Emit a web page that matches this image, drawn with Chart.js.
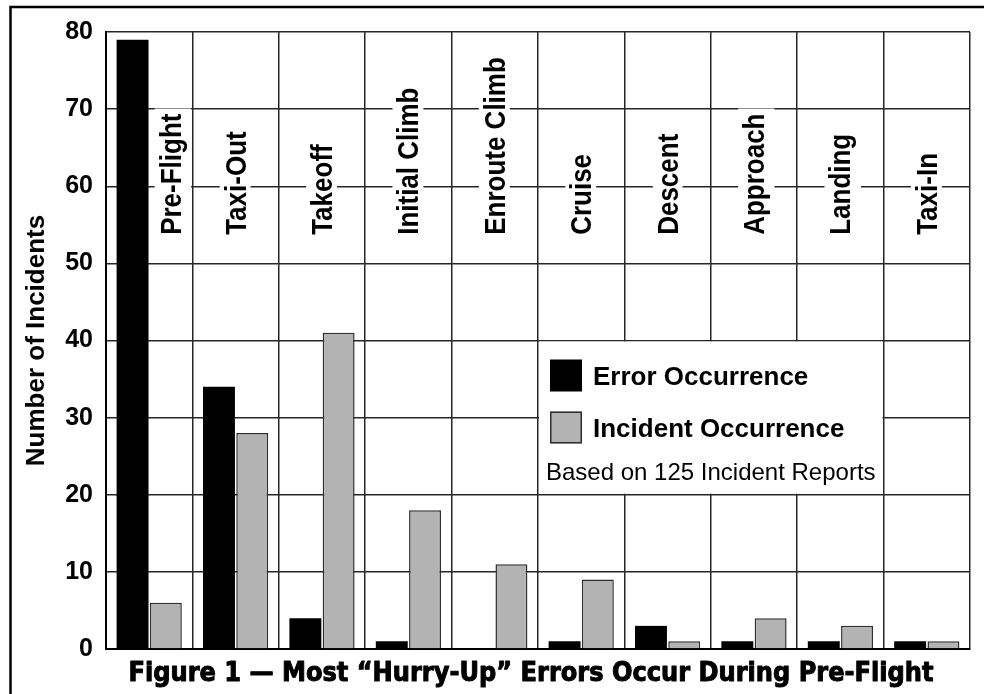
<!DOCTYPE html>
<html>
<head>
<meta charset="utf-8">
<script src="https://cdn.jsdelivr.net/npm/chart.js@4.4.1/dist/chart.umd.min.js"></script>
<style>
    body { margin: 0; background: #fff; }
    canvas { display: block; }
</style>
</head>
<body>
<canvas id="myChart" width="984" height="694"></canvas>
<script>
let phases = ['Pre-Flight', 'Taxi-Out', 'Takeoff', 'Initial Climb', 'Enroute Climb', 'Cruise', 'Descent', 'Approach', 'Landing', 'Taxi-In'];
let error_occ = [79, 34, 4, 1, 0, 1, 3, 1, 1, 1];
let incident_occ = [6, 28, 41, 18, 11, 9, 1, 4, 3, 1];
let y_ticks = [0, 10, 20, 30, 40, 50, 60, 70, 80];
let series_names = ['Error Occurrence', 'Incident Occurrence'];
let note_text = 'Based on 125 Incident Reports';
let axis_title = 'Number of Incidents';
let fig_title = 'Figure 1 \u2014 Most \u201cHurry-Up\u201d Errors Occur During Pre-Flight';

const FONT = '"Liberation Sans", Arial, Helvetica, sans-serif';
const GRID = '#262626';

// white box over the grid where the legend sits (cells Cruise..Landing, 20..40)
const legendBg = {
    id: 'legendBg',
    beforeDatasetsDraw(chart) {
        const ctx = chart.ctx, xs = chart.scales.x, ys = chart.scales.y;
        const l = xs.getPixelForValue(4.5), r = xs.getPixelForValue(8.5);
        const t = ys.getPixelForValue(40), b = ys.getPixelForValue(20);
        ctx.save();
        ctx.fillStyle = '#fff';
        ctx.fillRect(l + 1, t + 1, r - l - 2, b - t - 2);
        ctx.restore();
    },
    afterDatasetsDraw(chart) {
        const ctx = chart.ctx, xs = chart.scales.x, ys = chart.scales.y;
        const l = xs.getPixelForValue(4.5);
        const t = ys.getPixelForValue(40);
        const ds = chart.data.datasets;
        ctx.save();
        ctx.textAlign = 'left';
        ctx.textBaseline = 'alphabetic';
        ctx.font = 'bold 26px ' + FONT;
        [19, 71].forEach((dy, i) => {
            ctx.fillStyle = ds[i].backgroundColor;
            ctx.fillRect(l + 12, t + dy, 32, 32);
            if (ds[i].borderWidth) {
                ctx.strokeStyle = ds[i].borderColor;
                ctx.lineWidth = 1.5;
                ctx.strokeRect(l + 12.75, t + dy + 0.75, 30.5, 30.5);
            }
            ctx.fillStyle = '#000';
            ctx.fillText(series_names[i], l + 55, t + dy + 16 + 9.3);
        });
        ctx.font = '24px ' + FONT;
        ctx.fillText(note_text, l + 8, t + 131 + 8.6);
        ctx.restore();
    }
};

// vertical phase names inside each column, with a white band behind
const phaseLabels = {
    id: 'phaseLabels',
    afterDatasetsDraw(chart) {
        const ctx = chart.ctx, xs = chart.scales.x, ys = chart.scales.y;
        const base = ys.getPixelForValue(53.7);
        const pad = 5;
        const sq = 1.1; // glyphs a bit taller across the column
        ctx.save();
        ctx.font = 'bold 26px ' + FONT;
        phases.forEach((p, i) => {
            let cx = xs.getPixelForValue(i);
            if (i === 0) {
                let bar = chart.getDatasetMeta(0).data[0];
                cx = bar.x + bar.width / 2 + 22;
            }
            let m = ctx.measureText(p);
            let asc = m.actualBoundingBoxAscent * sq, desc = m.actualBoundingBoxDescent * sq;
            let bl = cx + 10;
            ctx.fillStyle = '#fff';
            ctx.fillRect(bl - asc - pad, base - m.width - pad, asc + desc + 2 * pad, m.width + 2 * pad);
            ctx.save();
            ctx.translate(bl, base);
            ctx.rotate(-Math.PI / 2);
            ctx.scale(1, sq);
            ctx.fillStyle = '#000';
            ctx.textAlign = 'left';
            ctx.textBaseline = 'alphabetic';
            ctx.fillText(p, 0, 0);
            ctx.restore();
        });
        ctx.restore();
    }
};

// caption under the plot and the page frame
const caption = {
    id: 'caption',
    afterDraw(chart) {
        const ctx = chart.ctx;
        ctx.save();
        ctx.font = 'bold 26px "DejaVu Sans", sans-serif';
        let w = ctx.measureText(fig_title).width;
        let target = 805;
        ctx.translate(531, 681);
        ctx.scale(target / w, 1);
        ctx.fillStyle = '#000';
        ctx.strokeStyle = '#000';
        ctx.lineWidth = 1.0;
        ctx.lineJoin = 'round';
        ctx.textAlign = 'center';
        ctx.textBaseline = 'alphabetic';
        ctx.fillText(fig_title, 0, 0);
        ctx.strokeText(fig_title, 0, 0);
        ctx.restore();

        ctx.save();
        ctx.strokeStyle = '#000';
        ctx.lineWidth = 2.5;
        ctx.beginPath();
        ctx.moveTo(10.5, 700);
        ctx.lineTo(10.5, 7);
        ctx.lineTo(990, 7);
        ctx.stroke();
        ctx.restore();
    }
};

let ctx = document.getElementById('myChart');
let chart = new Chart(ctx, {
    type: 'bar',
    data: {
        labels: phases,
        datasets: [
            {
                label: series_names[0],
                data: error_occ,
                backgroundColor: '#000000',
                borderWidth: 0
            },
            {
                label: series_names[1],
                data: incident_occ,
                backgroundColor: '#b3b3b3',
                borderColor: '#2e2e2e',
                borderWidth: 1.5
            }
        ]
    },
    options: {
        responsive: false,
        animation: false,
        events: [],
        categoryPercentage: 0.77,
        barPercentage: 0.96,
        layout: { padding: { left: 10, top: 32, right: 14, bottom: 45 } },
        scales: {
            x: {
                grid: { offset: true, color: GRID, lineWidth: 1.5, drawTicks: false },
                border: { display: true, color: '#000', width: 2 },
                ticks: { display: false },
                afterFit: (s) => { s.height = 0; }
            },
            y: {
                min: 0,
                max: 80,
                afterBuildTicks: (s) => { s.ticks = y_ticks.map(v => ({ value: v })); },
                grid: { color: GRID, lineWidth: 1.5, drawTicks: false },
                border: { display: true, color: '#000', width: 2 },
                ticks: {
                    color: '#000',
                    padding: 13,
                    font: { family: FONT, size: 25, weight: 'bold' }
                },
                title: {
                    display: true,
                    text: axis_title,
                    color: '#000',
                    padding: { top: 11, bottom: 0 },
                    font: { family: FONT, size: 26, weight: 'bold' }
                },
                afterFit: (s) => { s.width = 96; }
            }
        },
        plugins: {
            legend: { display: false },
            tooltip: { enabled: false },
            title: { display: false }
        }
    },
    plugins: [legendBg, phaseLabels, caption]
});
</script>
</body>
</html>
